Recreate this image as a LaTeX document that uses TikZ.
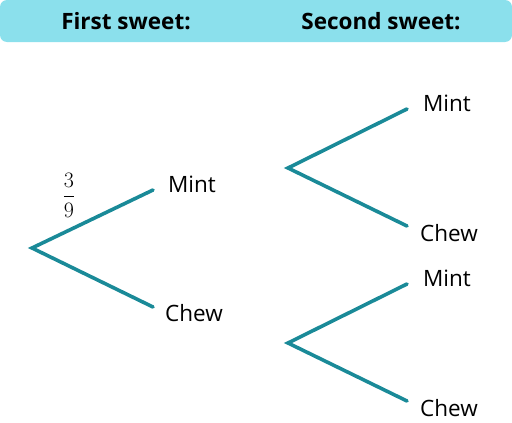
\documentclass[tikz,border=0pt]{standalone}
\usepackage{fix-cm}
\usepackage{fontspec}
\setmainfont{Open Sans}
\definecolor{hdr}{HTML}{8BE0EC}
\definecolor{br}{HTML}{1A8A98}
\begin{document}
\begin{tikzpicture}[x=1pt,y=-1pt,
  branch/.style={draw=br,line width=3.6pt,line cap=round},
  lbl/.style={font=\fontsize{22.5}{26}\selectfont,inner sep=0pt},
  head/.style={font=\fontsize{22.5}{26}\selectfont\bfseries,inner sep=0pt}]
\useasboundingbox (0,0) rectangle (512,423);
\fill[hdr,rounded corners=7pt] (0,0) rectangle (512,42);
\node[head] (h1) at (126,21) {First sweet:};
\node[head] (h2) at (381,21) {Second sweet:};
% first level
\coordinate (r0) at (32,248);
\coordinate (e1) at (153,190);
\coordinate (e2) at (153,307);
\draw[branch] (e1) -- (r0) -- (e2);
\node[lbl] (m1) at (192,184) {Mint};
\node[lbl] (c1) at (194,313) {Chew};
\node[inner sep=0pt,font=\fontsize{22}{26}\selectfont] (f) at (69,195) {$\displaystyle\frac{3}{9}$};
% second level upper
\coordinate (r1) at (288,168);
\coordinate (e3) at (407,109);
\coordinate (e4) at (407,226);
\draw[branch] (e3) -- (r1) -- (e4);
\node[lbl] (m2) at (447,103) {Mint};
\node[lbl] (c2) at (449,233) {Chew};
% second level lower
\coordinate (r2) at (288,343);
\coordinate (e5) at (407,284);
\coordinate (e6) at (407,401);
\draw[branch] (e5) -- (r2) -- (e6);
\node[lbl] (m3) at (447,278) {Mint};
\node[lbl] (c3) at (449,408) {Chew};
\end{tikzpicture}
\end{document}
